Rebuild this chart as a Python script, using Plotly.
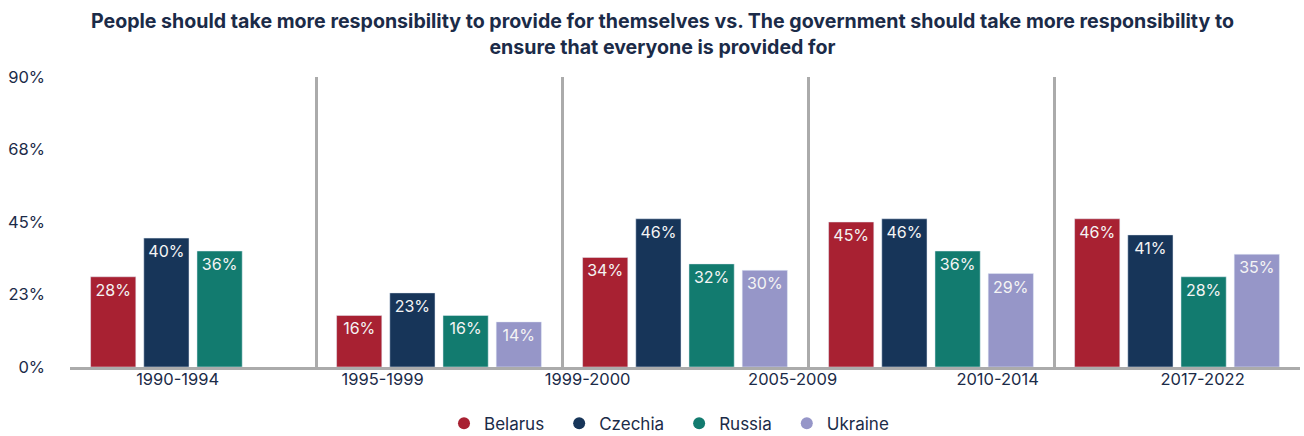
import plotly.graph_objects as go

# ---- data ----
periods = ["1990-1994", "1995-1999", "1999-2000", "2005-2009", "2010-2014", "2017-2022"]
groups = [0, 1, 2, 3, 4]
belarus = [28, 16, 34, 45, 46]
czechia = [40, 23, 46, 46, 41]
russia = [36, 16, 32, 36, 28]
ukraine = [None, 14, 30, 29, 35]
y_ticks = [0, 22.5, 45, 67.5, 90]
y_ticktext = ["0%", "23%", "45%", "68%", "90%"]

series = [
    ("Belarus", belarus, "#A82132"),
    ("Czechia", czechia, "#173559"),
    ("Russia", russia, "#127B6F"),
    ("Ukraine", ukraine, "#9696C8"),
]

FONT = "Inter"
NAVY = "#1B2B48"

fig = go.Figure()
for name, vals, color in series:
    fig.add_trace(go.Bar(
        x=groups, y=vals, name=name, marker_color=color, showlegend=False,
        text=[None if v is None else f"{v}%" for v in vals],
        textposition="inside", insidetextanchor="end", textangle=0,
        textfont=dict(family=FONT, size=16, color="#F4F4F4"),
    ))
# legend entries with circular markers
for i, (name, vals, color) in enumerate(series):
    fig.add_trace(go.Scatter(
        x=[None], y=[None], mode="markers",
        name=name + ("\u2002\u200a" if i < len(series) - 1 else ""),
        marker=dict(symbol="circle", size=17, color=color),
        hoverinfo="skip",
    ))

# invisible trace carrying the period labels axis
fig.add_trace(go.Scatter(x=periods, y=[None] * len(periods), xaxis="x2",
                         mode="markers", showlegend=False, hoverinfo="skip"))

boundaries = [g - 0.5 for g in groups] + [groups[-1] + 0.5]

fig.update_layout(
    width=1304, height=436,
    margin=dict(l=70, r=4, t=77, b=69),
    paper_bgcolor="white", plot_bgcolor="white",
    barmode="group", bargap=0.135, bargroupgap=0.15,
    title=dict(
        text="<b>People should take more responsibility to provide for themselves vs. The government should take more responsibility to<br>ensure that everyone is provided for</b>",
        x=0.508, xanchor="center", y=0.935, yanchor="top",
        font=dict(family=FONT, size=19.6, color=NAVY),
    ),
    xaxis=dict(
        range=[-0.5, 4.5], tickvals=boundaries, showticklabels=False,
        showgrid=True, gridcolor="#ABABAB", gridwidth=3, zeroline=False,
        showline=True, linecolor="#ABABAB", linewidth=3, ticks="",
    ),
    xaxis2=dict(
        overlaying="x", side="bottom", type="category",
        range=[-0.525, 5.475], showgrid=False, zeroline=False, showline=False,
        ticks="", tickfont=dict(family=FONT, size=16.5, color=NAVY),
    ),
    yaxis=dict(
        range=[0, 90], tickvals=y_ticks, ticktext=y_ticktext,
        showgrid=False, zeroline=False, showline=False, ticks="",
        tickfont=dict(family=FONT, size=16.5, color=NAVY), ticklabelstandoff=24,
    ),
    legend=dict(
        orientation="h", x=0.487, xanchor="center",
        yref="container", y=0.028, yanchor="middle",
        font=dict(family=FONT, size=17, color=NAVY), itemsizing="constant",
        traceorder="normal",
    ),
    showlegend=True,
)

fig.write_html("out.html")
